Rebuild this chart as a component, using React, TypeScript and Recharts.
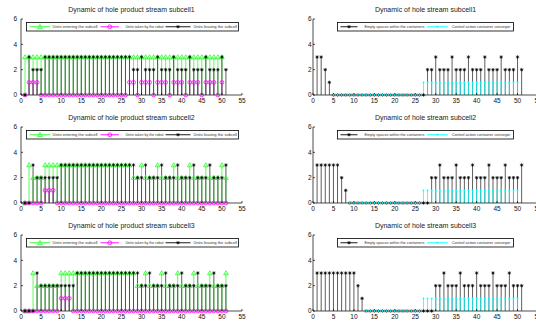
import React from 'react';
import { ScatterChart, Scatter, XAxis, YAxis, ErrorBar } from 'recharts';

// time steps run 1..51; each array holds one value per step (null = not plotted)
const xTicks = [0, 5, 10, 15, 20, 25, 30, 35, 40, 45, 50, 55];
const yTicks = [0, 2, 4, 6];

const sub1Entering = [
  3, 3, 3, 3, 3, 3, 3, 3, 3, 3,
  3, 3, 3, 3, 3, 3, 3, 3, 3, 3,
  3, 3, 3, 3, 3, 3, 3, 3, 3, 3,
  3, 3, 3, 3, 3, 3, 3, 3, 3, 3,
  3, 3, 3, 3, 3, 3, 3, 3, 3, 3,
  null,
];
const sub1Robot = [
  0, 1, 1, 1, 0, 0, 0, 0, 0, 0,
  0, 0, 0, 0, 0, 0, 0, 0, 0, 0,
  0, 0, 0, 0, 0, 0, 1, 1, 0, 1,
  1, 1, 0, 1, 1, 1, 0, 1, 1, 1,
  0, 1, 1, 1, 0, 1, 1, 1, 0, 1,
  null,
];
const sub1Leaving = [
  0, 3, 2, 2, 2, 3, 3, 3, 3, 3,
  3, 3, 3, 3, 3, 3, 3, 3, 3, 3,
  3, 3, 3, 3, 3, 3, 3, 2, 2, 3,
  2, 2, 2, 3, 2, 2, 2, 3, 2, 2,
  2, 3, 2, 2, 2, 3, 2, 2, 2, 3,
  2,
];

const sub2Entering = [
  0, 3, 2, 2, 2, 3, 3, 3, 3, 3,
  3, 3, 3, 3, 3, 3, 3, 3, 3, 3,
  3, 3, 3, 3, 3, 3, 3, 2, 2, 3,
  2, 2, 2, 3, 2, 2, 2, 3, 2, 2,
  2, 3, 2, 2, 2, 3, 2, 2, 2, 3,
  2,
];
const sub2Robot = [
  0, 0, 0, 0, 0, 1, 1, 1, 0, 0,
  0, 0, 0, 0, 0, 0, 0, 0, 0, 0,
  0, 0, 0, 0, 0, 0, 0, 0, 0, 0,
  0, 0, 0, 0, 0, 0, 0, 0, 0, 0,
  0, 0, 0, 0, 0, 0, 0, 0, 0, 0,
  0,
];
const sub2Leaving = [
  0, 0, 3, 2, 2, 2, 2, 2, 2, 3,
  3, 3, 3, 3, 3, 3, 3, 3, 3, 3,
  3, 3, 3, 3, 3, 3, 3, 3, 2, 2,
  3, 2, 2, 2, 3, 2, 2, 2, 3, 2,
  2, 2, 3, 2, 2, 2, 3, 2, 2, 2,
  3,
];

const sub3Entering = [
  0, 0, 3, 2, 2, 2, 2, 2, 2, 3,
  3, 3, 3, 3, 3, 3, 3, 3, 3, 3,
  3, 3, 3, 3, 3, 3, 3, 3, 2, 2,
  3, 2, 2, 2, 3, 2, 2, 2, 3, 2,
  2, 2, 3, 2, 2, 2, 3, 2, 2, 2,
  3,
];
const sub3Robot = [
  0, 0, 0, 0, 0, 0, 0, 0, 0, 1,
  1, 1, 0, 0, 0, 0, 0, 0, 0, 0,
  0, 0, 0, 0, 0, 0, 0, 0, 0, 0,
  0, 0, 0, 0, 0, 0, 0, 0, 0, 0,
  0, 0, 0, 0, 0, 0, 0, 0, 0, 0,
  0,
];
const sub3Leaving = [
  0, 0, 0, 3, 2, 2, 2, 2, 2, 2,
  2, 2, 2, 3, 3, 3, 3, 3, 3, 3,
  3, 3, 3, 3, 3, 3, 3, 3, 3, 2,
  2, 3, 2, 2, 2, 3, 2, 2, 2, 3,
  2, 2, 2, 3, 2, 2, 2, 3, 2, 2,
  2,
];

const empty1 = [
  3, 3, 2, 1, 0, 0, 0, 0, 0, 0,
  0, 0, 0, 0, 0, 0, 0, 0, 0, 0,
  0, 0, 0, 0, 0, 0, 0, 2, 2, 3,
  2, 2, 2, 3, 2, 2, 2, 3, 2, 2,
  2, 3, 2, 2, 2, 3, 2, 2, 2, 3,
  2,
];
const control1 = [
  null, null, null, null, 0, 0, 0, 0, 0, 0,
  0, 0, 0, 0, 0, 0, 0, 0, 0, 0,
  0, 0, 0, 0, 0, 0, 1, 1, 1, 1,
  1, 1, 1, 1, 1, 1, 1, 1, 1, 1,
  1, 1, 1, 1, 1, 1, 1, 1, 1, 1,
  null,
];
const empty2 = [
  3, 3, 3, 3, 3, 3, 2, 1, 0, 0,
  0, 0, 0, 0, 0, 0, 0, 0, 0, 0,
  0, 0, 0, 0, 0, 0, 0, 0, 2, 2,
  3, 2, 2, 2, 3, 2, 2, 2, 3, 2,
  2, 2, 3, 2, 2, 2, 3, 2, 2, 2,
  3,
];
const control2 = [
  null, null, null, null, null, null, null, null, 0, 0,
  0, 0, 0, 0, 0, 0, 0, 0, 0, 0,
  0, 0, 0, 0, 0, 0, 1, 1, 1, 1,
  1, 1, 1, 1, 1, 1, 1, 1, 1, 1,
  1, 1, 1, 1, 1, 1, 1, 1, 1, 1,
  null,
];
const empty3 = [
  3, 3, 3, 3, 3, 3, 3, 3, 3, 3,
  2, 1, 0, 0, 0, 0, 0, 0, 0, 0,
  0, 0, 0, 0, 0, 0, 0, 0, 0, 2,
  2, 3, 2, 2, 2, 3, 2, 2, 2, 3,
  2, 2, 2, 3, 2, 2, 2, 3, 2, 2,
  2,
];
const control3 = [
  null, null, null, null, null, null, null, null, null, null,
  null, null, 0, 0, 0, 0, 0, 0, 0, 0,
  0, 0, 0, 0, 0, 0, 1, 1, 1, 1,
  1, 1, 1, 1, 1, 1, 1, 1, 1, 1,
  1, 1, 1, 1, 1, 1, 1, 1, 1, 1,
  null,
];

const productTitles = [
  'Dynamic of hole product stream subcell1',
  'Dynamic of hole product stream subcell2',
  'Dynamic of hole product stream subcell3',
];
const holeTitles = [
  'Dynamic of hole stream subcell1',
  'Dynamic of hole stream subcell2',
  'Dynamic of hole stream subcell3',
];

const FONT = '"Liberation Sans", Arial, sans-serif';
const GREEN = '#22ff22';
const MAGENTA = '#ff00ff';
const BLACK = '#000000';
const STEM_DARK = '#2a2a2a';
const CYAN = '#00ffff';
const ROW_H = 108;

type Pt = { x: number; y: number; err: [number, number] };

// one stem per step: error bar from 0 up to the value, marker on top
function toPoints(values: (number | null)[]): Pt[] {
  const out: Pt[] = [];
  values.forEach((v, i) => {
    if (v !== null) out.push({ x: i + 1, y: v, err: [v, 0] });
  });
  return out;
}

type MarkerKind = 'triangle' | 'circle' | 'star' | 'dot';

function Marker({ kind, cx, cy, color }: { kind: MarkerKind; cx: number; cy: number; color: string }) {
  if (kind === 'triangle') {
    const s = 2.3;
    return (
      <path
        d={`M${cx},${cy - s} L${cx + s},${cy + s * 0.8} L${cx - s},${cy + s * 0.8} Z`}
        fill="none"
        stroke={color}
        strokeWidth={0.8}
      />
    );
  }
  if (kind === 'circle') {
    return <circle cx={cx} cy={cy} r={1.9} fill="none" stroke={color} strokeWidth={0.8} />;
  }
  if (kind === 'star') {
    const s = 1.7;
    const d = s * 0.7;
    return (
      <g stroke={color} strokeWidth={0.7}>
        <line x1={cx - s} y1={cy} x2={cx + s} y2={cy} />
        <line x1={cx} y1={cy - s} x2={cx} y2={cy + s} />
        <line x1={cx - d} y1={cy - d} x2={cx + d} y2={cy + d} />
        <line x1={cx - d} y1={cy + d} x2={cx + d} y2={cy - d} />
      </g>
    );
  }
  return <circle cx={cx} cy={cy} r={0.9} fill={color} />;
}

function renderStem(key: string, values: (number | null)[], color: string, kind: MarkerKind, stemColor = color) {
  return (
    <Scatter
      key={key}
      name={key}
      data={toPoints(values)}
      isAnimationActive={false}
      shape={(p: any) => <Marker kind={kind} cx={p.cx} cy={p.cy} color={color} />}
    >
      <ErrorBar dataKey="err" direction="y" width={0} stroke={stemColor} strokeWidth={0.75} />
    </Scatter>
  );
}

type LegendItem = { label: string; color: string; kind: MarkerKind; lx0: number; lx1: number; tx: number; tw: number };

function LegendBox({ left, top, width, items }: { left: number; top: number; width: number; items: LegendItem[] }) {
  const h = 9.5;
  return (
    <svg
      style={{ position: 'absolute', left, top, overflow: 'visible' }}
      width={width}
      height={h}
    >
      <rect x={0.5} y={0.5} width={width - 1} height={h - 1} fill="#fff" stroke="#000" strokeWidth={0.8} />
      {items.map((it) => (
        <g key={it.label}>
          <line x1={it.lx0} y1={h / 2} x2={it.lx1} y2={h / 2} stroke={it.color} strokeWidth={0.9} />
          <Marker kind={it.kind} cx={(it.lx0 + it.lx1) / 2} cy={h / 2} color={it.color} />
          <text
            x={it.tx}
            y={h / 2 + 1.3}
            fontSize={3.6}
            fontFamily={FONT}
            fill="#333"
            textLength={it.tw}
            lengthAdjust="spacingAndGlyphs"
          >
            {it.label}
          </text>
        </g>
      ))}
    </svg>
  );
}

const productLegend: LegendItem[] = [
  { label: 'Units entering the subcell', color: GREEN, kind: 'triangle', lx0: 3.5, lx1: 24.5, tx: 26.5, tw: 45 },
  { label: 'Units taken by the robot', color: MAGENTA, kind: 'circle', lx0: 74.5, lx1: 93, tx: 99.5, tw: 38 },
  { label: 'Units leaving the subcell', color: BLACK, kind: 'star', lx0: 139.5, lx1: 164.5, tx: 167.5, tw: 43.5 },
];
const holeLegend: LegendItem[] = [
  { label: 'Empty spaces within the containers', color: BLACK, kind: 'star', lx0: 3.5, lx1: 20.5, tx: 27.4, tw: 60 },
  { label: 'Control action container conveyor', color: CYAN, kind: 'dot', lx0: 90, lx1: 110.7, tx: 114.7, tw: 58.7 },
];

const tickFont = { fontSize: 6.5, fill: '#111', fontFamily: FONT };

function Axes({ yWidth, yTickMargin }: { yWidth: number; yTickMargin: number }) {
  return [
    <XAxis
      key="xb"
      type="number"
      dataKey="x"
      domain={[0, 55]}
      ticks={xTicks}
      interval={0}
      height={13}
      tickSize={-2}
      tickMargin={5.5}
      stroke="#000"
      strokeWidth={0.7}
      tick={tickFont}
    />,
    <XAxis
      key="xt"
      xAxisId="top"
      orientation="top"
      type="number"
      domain={[0, 55]}
      ticks={xTicks}
      interval={0}
      height={0}
      tickSize={-2}
      tick={false}
      stroke="#000"
      strokeWidth={0.7}
    />,
    <YAxis
      key="yl"
      type="number"
      dataKey="y"
      domain={[0, 6]}
      ticks={yTicks}
      interval={0}
      width={yWidth}
      tickSize={-2}
      tickMargin={yTickMargin}
      stroke="#000"
      strokeWidth={0.7}
      tick={tickFont}
    />,
    <YAxis
      key="yr"
      yAxisId="right"
      orientation="right"
      type="number"
      domain={[0, 6]}
      ticks={yTicks}
      interval={0}
      width={0}
      tickSize={-2}
      tick={false}
      stroke="#000"
      strokeWidth={0.7}
    />,
  ];
}

function Title({ text, left, width, top }: { text: string; left: number; width: number; top: number }) {
  return (
    <div
      style={{
        position: 'absolute',
        left,
        top,
        width,
        textAlign: 'center',
        fontSize: 7,
        lineHeight: '8px',
        fontFamily: FONT,
        color: '#222',
        whiteSpace: 'nowrap',
      }}
    >
      {text}
    </div>
  );
}

function ProductPanel({ row, entering, robot, leaving }: { row: number; entering: (number | null)[]; robot: (number | null)[]; leaving: (number | null)[] }) {
  const top = row * ROW_H;
  return (
    <>
      <Title text={productTitles[row]} left={21} width={221} top={top + 6} />
      <div style={{ position: 'absolute', left: 0, top }}>
        <ScatterChart width={268} height={ROW_H} margin={{ top: 19, right: 26, bottom: 0, left: 0 }}>
          {Axes({ yWidth: 21, yTickMargin: 6 })}
          {renderStem('entering', entering, GREEN, 'triangle')}
          {renderStem('robot', robot, MAGENTA, 'circle')}
          {renderStem('leaving', leaving, BLACK, 'star', STEM_DARK)}
        </ScatterChart>
      </div>
      <LegendBox left={25.5} top={top + 21.5} width={213} items={productLegend} />
    </>
  );
}

function HolePanel({ row, empty, control }: { row: number; empty: (number | null)[]; control: (number | null)[] }) {
  const top = row * ROW_H;
  return (
    <>
      <Title text={holeTitles[row]} left={313} width={225} top={top + 6} />
      <div style={{ position: 'absolute', left: 268, top }}>
        <ScatterChart width={270} height={ROW_H} margin={{ top: 19, right: 0, bottom: 0, left: 30 }}>
          {Axes({ yWidth: 15, yTickMargin: 3.5 })}
          {renderStem('empty', empty, BLACK, 'star', STEM_DARK)}
          {renderStem('control', control, CYAN, 'dot')}
        </ScatterChart>
      </div>
      <LegendBox left={337.3} top={top + 21.5} width={177} items={holeLegend} />
    </>
  );
}

export default function App() {
  return (
    <div
      style={{
        position: 'absolute',
        left: 0,
        top: 0,
        width: 536,
        height: 325,
        background: '#fff',
        overflow: 'hidden',
      }}
    >
      <ProductPanel row={0} entering={sub1Entering} robot={sub1Robot} leaving={sub1Leaving} />
      <ProductPanel row={1} entering={sub2Entering} robot={sub2Robot} leaving={sub2Leaving} />
      <ProductPanel row={2} entering={sub3Entering} robot={sub3Robot} leaving={sub3Leaving} />
      <HolePanel row={0} empty={empty1} control={control1} />
      <HolePanel row={1} empty={empty2} control={control2} />
      <HolePanel row={2} empty={empty3} control={control3} />
    </div>
  );
}
